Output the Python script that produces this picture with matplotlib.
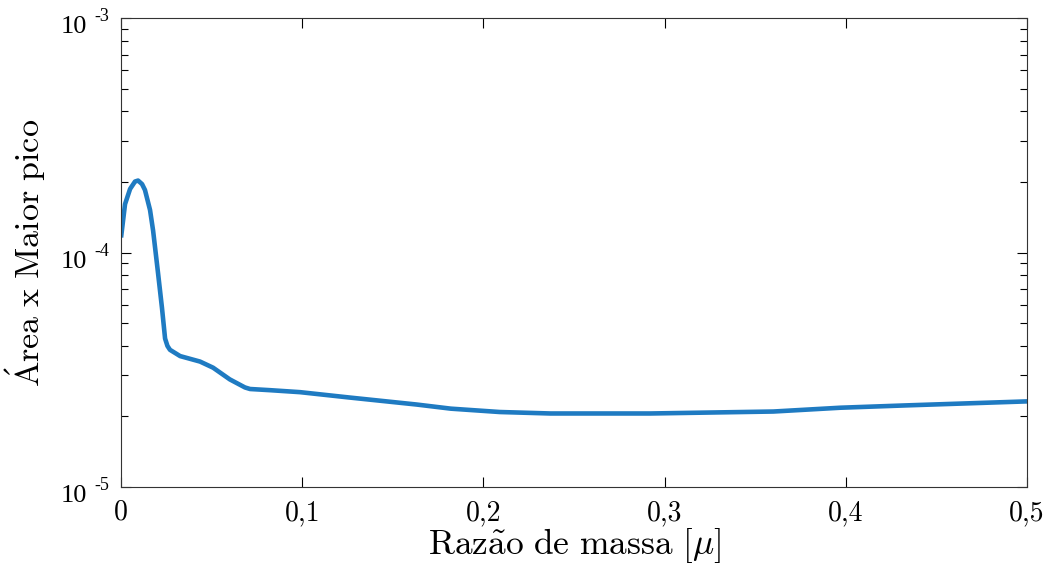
import matplotlib
matplotlib.use("Agg")
import matplotlib.pyplot as plt
from matplotlib.ticker import FixedLocator, LogLocator, NullFormatter

plt.rcParams['mathtext.fontset'] = 'cm'
plt.rcParams['font.family'] = 'serif'
plt.rcParams['font.serif'] = ['cmr10', 'DejaVu Serif']
plt.rcParams['axes.unicode_minus'] = False

# Data
mu = [0.0, 0.0022, 0.005, 0.0077, 0.0094, 0.0116, 0.0132, 0.016, 0.0177,
      0.0204, 0.0226, 0.0243, 0.0256, 0.027, 0.0326, 0.0436, 0.0508, 0.060,
      0.0684, 0.0712, 0.0822, 0.0988, 0.126, 0.163, 0.182, 0.209, 0.237,
      0.292, 0.360, 0.397, 0.433, 0.5]
area_peak = [1.16e-4, 1.61e-4, 1.87e-4, 2.01e-4, 2.03e-4, 1.96e-4, 1.85e-4,
             1.52e-4, 1.24e-4, 8.2e-5, 5.8e-5, 4.3e-5, 4.0e-5, 3.85e-5,
             3.62e-5, 3.43e-5, 3.23e-5, 2.88e-5, 2.66e-5, 2.62e-5, 2.59e-5,
             2.54e-5, 2.41e-5, 2.25e-5, 2.16e-5, 2.09e-5, 2.06e-5, 2.06e-5,
             2.10e-5, 2.18e-5, 2.23e-5, 2.32e-5]

xticks = [0, 0.1, 0.2, 0.3, 0.4, 0.5]
xticklabels = ['0', '0,1', '0,2', '0,3', '0,4', '0,5']
yticks = [1e-5, 1e-4, 1e-3]
yexponents = ['-5', '-4', '-3']

fig = plt.figure(figsize=(10.48, 5.69), dpi=100)
ax = fig.add_axes([0.1155, 0.144, 0.8645, 0.824])

ax.plot(mu, area_peak, color='#1f7bc2', lw=3.3, solid_joinstyle='round',
        solid_capstyle='butt')

ax.set_yscale('log')
ax.set_xlim(0, 0.5)
ax.set_ylim(1e-5, 1e-3)

ax.xaxis.set_major_locator(FixedLocator(xticks))
ax.set_xticklabels(xticklabels)
ax.yaxis.set_major_locator(FixedLocator(yticks))
ax.yaxis.set_major_formatter(NullFormatter())
ax.yaxis.set_minor_locator(LogLocator(base=10, subs=range(2, 10)))
ax.yaxis.set_minor_formatter(NullFormatter())

ax.tick_params(which='both', direction='in', top=True, right=True,
               width=0.8, colors='black', labelsize=20)
ax.tick_params(which='major', length=7)
ax.tick_params(which='minor', length=5)
ax.tick_params(axis='x', pad=9)

# MATLAB-style y tick labels: "10" with a raised exponent
ytrans = ax.get_yaxis_transform()
for val, ex in zip(yticks, yexponents):
    ax.annotate('10', xy=(0, val), xycoords=ytrans,
                xytext=(-24.5, -6.5), textcoords='offset points',
                ha='right', va='center', fontsize=19,
                family='Liberation Serif', annotation_clip=False)
    ax.annotate(ex, xy=(0, val), xycoords=ytrans,
                xytext=(-19.5, 1), textcoords='offset points',
                ha='left', va='center', fontsize=13,
                family='Liberation Serif', annotation_clip=False)

for s in ax.spines.values():
    s.set_linewidth(0.8)
    s.set_color('#333333')

ax.set_xlabel(r'$\mathrm{Raz\tilde{a}o\ de\ massa}\ [\mu]$', fontsize=25.5)
ax.xaxis.set_label_coords(0.5, -0.083)
ax.set_ylabel(r'$\mathrm{\acute{A}rea\ x\ Maior\ pico}$', fontsize=24.5)
ax.yaxis.set_label_coords(-0.081, 0.5)

fig.savefig('out.png', dpi=100, facecolor='white')
